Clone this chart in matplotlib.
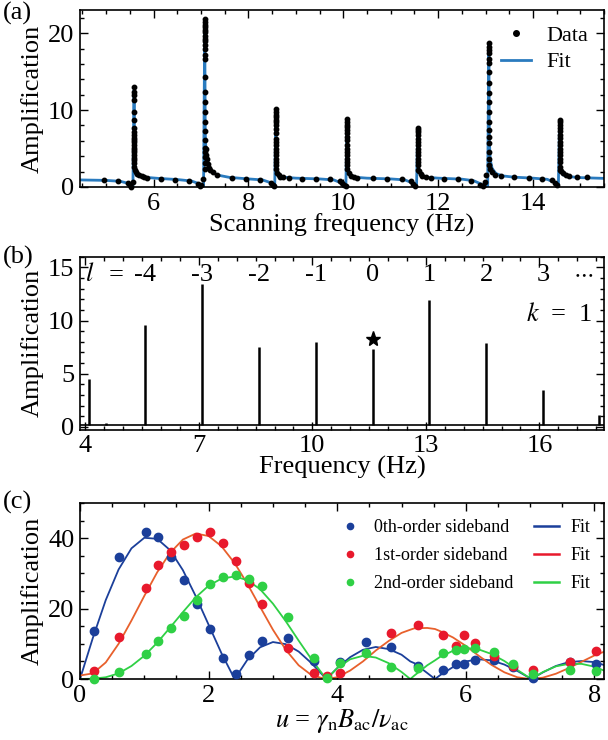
import numpy as np
import matplotlib.pyplot as plt
from matplotlib.ticker import MultipleLocator
from matplotlib.lines import Line2D

plt.rcParams['font.family'] = ['Liberation Serif', 'DejaVu Serif']
plt.rcParams['mathtext.fontset'] = 'stix'

# (a) resonance scan: dots stacked on each resonance, plus the dots in between
peak_freq = [5.59, 7.08, 8.58, 10.08, 11.57, 13.07, 14.56]
peak_amps = [
    [13.0, 12.3, 11.9, 11.3, 9.8, 8.7, 7.7, 7.2, 6.8, 6.4, 6.1, 5.8, 5.5, 5.1, 4.8, 4.5, 4.2, 3.8, 3.5, 3.1, 2.6],
    [21.8, 21.5, 21.1, 20.8, 20.4, 20.1, 19.7, 19.3, 19.0, 18.5, 18.0, 17.2, 16.7, 14.3, 12.4, 11.1, 9.8, 8.4, 7.3, 6.1, 5.1, 4.6, 3.9, 3.1, 2.4],
    [10.1, 9.8, 9.4, 9.1, 8.7, 8.4, 8.0, 7.5, 7.0, 6.3, 5.9, 5.5, 4.9, 4.6, 4.2, 3.7, 3.3, 2.9, 2.4],
    [8.8, 8.5, 8.1, 7.8, 7.4, 7.0, 6.5, 6.1, 5.5, 5.0, 4.6, 4.1, 3.6, 3.2, 2.8, 2.3],
    [7.7, 7.4, 7.1, 6.8, 6.3, 5.9, 5.5, 5.0, 4.6, 4.2, 3.7, 3.3, 2.8, 2.2],
    [18.7, 18.2, 17.8, 17.4, 16.7, 16.1, 15.0, 13.5, 12.2, 11.1, 9.8, 8.5, 7.4, 6.5, 5.7, 4.6, 3.7, 2.9],
    [8.7, 8.4, 8.1, 7.7, 7.3, 6.8, 6.4, 5.9, 5.5, 4.9, 4.5, 4.1, 3.6, 3.2, 2.6, 2.2],
]
side_freq = [4.96, 5.26, 5.47, 5.50, 5.53, 5.56,
             5.61, 5.63, 5.66, 5.70, 5.75, 5.80, 5.87, 6.15, 6.45, 6.75,
             6.93, 6.97, 7.01, 7.05,
             7.10, 7.11, 7.13, 7.15, 7.17, 7.20, 7.25, 7.34, 7.65, 7.94, 8.24,
             8.48, 8.52, 8.55,
             8.60, 8.64, 8.67, 8.73, 8.85, 9.13, 9.43, 9.73, 9.93, 9.98, 10.01, 10.05,
             10.12, 10.17, 10.22, 10.29, 10.63, 10.93, 11.23, 11.42, 11.48, 11.52,
             11.60, 11.63, 11.67, 11.74, 11.85, 12.13, 12.42, 12.69, 12.89, 12.94, 12.99, 13.02,
             13.10, 13.14, 13.21, 13.32, 13.60, 13.91, 14.20, 14.41, 14.46, 14.50,
             14.60, 14.63, 14.69, 14.76, 14.92, 15.14]
side_amp = [0.87, 0.74, 0.55, 0.28, 0.05, 0.7,
            2.2, 1.9, 1.65, 1.5, 1.38, 1.3, 1.2, 1.08, 0.95, 0.78,
            0.4, 0.15, 0.3, 1.0,
            4.9, 4.2, 3.6, 3.0, 2.5, 2.2, 1.9, 1.6, 1.2, 1.06, 0.95,
            0.56, 0.26, 0.1,
            1.78, 1.56, 1.35, 1.26, 1.2, 1.1, 1.08, 0.99, 0.82, 0.52, 0.22, 0.09,
            1.78, 1.48, 1.26, 1.13, 1.12, 1.08, 0.99, 0.73, 0.43, 0.17,
            2.1, 1.65, 1.43, 1.3, 1.2, 1.1, 1.04, 0.82, 0.3, 0.1, 0.6, 1.5,
            2.4, 2.0, 1.6, 1.4, 1.3, 1.18, 1.1, 0.9, 0.5, 0.25,
            2.1, 1.8, 1.6, 1.45, 1.3, 1.26]

fit_freq = [4.45, 5.00, 5.30, 5.45, 5.53, 5.565, 5.59, 5.60, 5.62, 5.66, 5.72, 5.85, 6.10, 6.50, 6.80,
            6.95, 7.03, 7.055, 7.08, 7.09, 7.11, 7.15, 7.22, 7.35, 7.60, 8.00, 8.30,
            8.45, 8.53, 8.555, 8.58, 8.59, 8.61, 8.66, 8.75, 9.00, 9.50, 9.80,
            9.95, 10.03, 10.055, 10.08, 10.09, 10.11, 10.16, 10.25, 10.50, 11.00, 11.30,
            11.45, 11.52, 11.545, 11.57, 11.58, 11.60, 11.65, 11.75, 12.00, 12.50, 12.75,
            12.90, 13.00, 13.045, 13.07, 13.08, 13.10, 13.14, 13.22, 13.35, 13.60, 14.00, 14.30,
            14.45, 14.51, 14.535, 14.56, 14.57, 14.59, 14.64, 14.75, 15.00, 15.50]
fit_amp = [0.92, 0.86, 0.74, 0.5, 0.15, 0.0, 12.6, 4.0, 2.4, 1.75, 1.45, 1.25, 1.12, 0.97, 0.78,
           0.45, 0.08, 0.0, 21.7, 7.0, 4.0, 2.8, 2.0, 1.55, 1.25, 1.05, 0.92,
           0.6, 0.12, 0.0, 9.9, 3.5, 2.0, 1.5, 1.27, 1.15, 1.05, 0.92,
           0.55, 0.1, 0.0, 8.6, 3.0, 1.9, 1.5, 1.27, 1.15, 1.05, 0.92,
           0.55, 0.12, 0.0, 7.6, 2.8, 1.9, 1.5, 1.27, 1.15, 1.02, 0.82,
           0.4, 0.05, 0.0, 18.5, 6.0, 3.5, 2.4, 1.75, 1.45, 1.28, 1.15, 1.0,
           0.6, 0.15, 0.0, 8.5, 3.0, 1.9, 1.55, 1.35, 1.22, 1.12]

# (b) Fourier spectrum
spec_freq = [4.10, 4.55, 5.59, 7.09, 8.59, 10.10, 11.60, 13.09, 14.60, 16.09, 17.58]
spec_amp = [4.45, 0.35, 9.6, 13.45, 7.55, 8.0, 7.35, 11.9, 7.9, 3.45, 1.1]
spec_floor = 0.12
order_labels = ['-4', '-3', '-2', '-1', '0', '1', '2', '3']
order_freq = [5.59, 7.09, 8.59, 10.10, 11.60, 13.09, 14.60, 16.09]
star_freq, star_amp = 11.60, 8.3

# (c) sideband amplitudes vs modulation index
u0 = [0.21, 0.60, 1.02, 1.22, 1.42, 1.61, 1.82, 2.02, 2.22, 2.43, 2.63, 2.83, 3.23, 3.64,
      4.04, 4.44, 4.84, 5.25, 5.64, 5.84, 5.97, 6.14, 6.44, 6.74, 7.04, 7.62, 8.03]
a0 = [13.5, 34.6, 41.7, 40.3, 34.6, 28.0, 21.4, 14.3, 6.0, 1.5, 6.9, 10.7, 11.6, 5.0,
      4.8, 10.4, 9.0, 3.6, 2.7, 4.4, 4.4, 5.5, 5.3, 3.4, 0.3, 4.8, 4.3]
u1 = [0.21, 0.60, 1.02, 1.22, 1.42, 1.61, 1.82, 2.02, 2.22, 2.43, 2.63, 2.83, 3.23, 3.64,
      3.84, 4.04, 4.84, 5.25, 5.64, 5.84, 5.97, 6.14, 6.44, 6.74, 7.04, 7.62, 8.03]
a1 = [2.2, 12.0, 25.9, 32.3, 36.0, 38.0, 40.3, 41.7, 38.5, 33.6, 27.3, 21.4, 8.8, 1.7,
      1.0, 1.7, 13.1, 15.4, 12.4, 9.5, 12.4, 10.2, 6.4, 3.6, 2.7, 4.8, 8.0]
u2 = [0.21, 0.60, 1.02, 1.22, 1.42, 1.61, 1.82, 2.02, 2.22, 2.43, 2.63, 2.83, 3.23, 3.64,
      3.84, 4.04, 4.44, 4.84, 5.25, 5.64, 5.84, 5.97, 6.14, 6.44, 6.74, 7.04, 7.62, 8.03]
a2 = [0.0, 1.9, 7.2, 10.9, 14.4, 18.0, 22.4, 26.9, 29.0, 29.4, 28.4, 26.5, 17.5, 6.0,
      0.2, 4.5, 7.4, 3.3, 3.1, 7.4, 8.2, 8.5, 8.8, 7.6, 4.4, 1.4, 2.7, 2.2]

fit_u = [0.0, 0.2, 0.4, 0.6, 0.8, 1.0, 1.2, 1.4, 1.6, 1.8, 2.0, 2.2, 2.4, 2.405, 2.6, 2.8, 3.0,
         3.2, 3.4, 3.6, 3.8, 3.832, 4.0, 4.2, 4.4, 4.6, 4.8, 5.0, 5.136, 5.2, 5.4, 5.52, 5.6, 5.8,
         6.0, 6.2, 6.4, 6.6, 6.8, 7.0, 7.016, 7.2, 7.4, 7.6, 7.8, 8.0, 8.2]
fit0 = [0.0, 11.7, 22.4, 31.1, 37.1, 40.1, 39.8, 36.6, 30.9, 23.5, 15.4, 7.3, 0.15, 0.0, 5.4, 9.0, 10.5,
        9.9, 7.8, 4.5, 0.6, 0.0, 3.1, 6.2, 8.3, 9.1, 8.5, 6.9, 5.0, 4.5, 1.7, 0.0, 1.1, 3.4,
        5.0, 5.6, 5.3, 4.1, 2.3, 0.2, 0.0, 1.9, 3.7, 4.8, 5.1, 4.8, 3.7]
fit1 = [1.0, 1.6, 4.7, 10.0, 16.6, 23.6, 30.3, 35.8, 39.6, 41.3, 40.6, 37.7, 33.0, 32.9, 27.1, 20.5, 14.0,
        8.3, 3.9, 1.1, 0.1, 0.0, 0.5, 2.4, 5.0, 8.1, 10.8, 13.1, 14.0, 14.4, 14.5, 14.2, 13.6, 11.8,
        9.4, 6.6, 4.0, 1.9, 0.5, 0.0, 0.0, 0.4, 1.5, 3.1, 4.9, 6.7, 8.1]
fit2 = [0.0, 0.1, 0.5, 1.6, 3.7, 6.6, 10.3, 14.6, 19.0, 23.2, 26.5, 28.5, 29.1, 29.1, 28.1, 25.5, 21.4,
        16.4, 10.9, 5.6, 0.7, 0.0, 3.1, 5.6, 6.6, 6.1, 4.5, 2.0, 0.0, 1.0, 3.9, 5.3, 6.3, 8.0,
        8.8, 8.4, 7.1, 5.1, 2.6, 0.2, 0.0, 2.0, 3.6, 4.3, 4.3, 3.5, 2.0]

blue = '#1b3f9a'
red = '#e8192c'
red_line = '#e8602c'
green = '#2fd045'
fit_blue = '#2a7bbf'


def style_axes(ax, xmaj, xmin, ymaj, ymin, xoff=0):
    ax.xaxis.set_major_locator(MultipleLocator(xmaj, offset=xoff))
    ax.xaxis.set_minor_locator(MultipleLocator(xmin))
    ax.yaxis.set_major_locator(MultipleLocator(ymaj))
    ax.yaxis.set_minor_locator(MultipleLocator(ymin))
    ax.tick_params(which='both', direction='in', top=True, right=True, labelsize=19, width=1.0)
    ax.tick_params(which='major', length=6, pad=4)
    ax.tick_params(which='minor', length=3)
    for sp in ax.spines.values():
        sp.set_linewidth(1.2)


fig = plt.figure(figsize=(6.08, 7.4), dpi=100)

# panel (a)
ax1 = fig.add_axes([0.1316, 0.7473, 0.862, 0.239])
ax1.plot(fit_freq, fit_amp, color=fit_blue, lw=2.0, zorder=2)
col_f = np.concatenate([[f] * len(a) for f, a in zip(peak_freq, peak_amps)])
col_a = np.concatenate(peak_amps)
ax1.plot(np.concatenate([side_freq, col_f]), np.concatenate([side_amp, col_a]),
         'o', color='black', ms=3.2, zorder=3, clip_on=False)
ax1.set_xlim(4.45, 15.5)
ax1.set_ylim(0, 23)
style_axes(ax1, 2, 0.5, 10, 2)
ax1.set_xlabel('Scanning frequency (Hz)', fontsize=19, labelpad=-1)
ax1.set_ylabel('Amplification', fontsize=19, labelpad=3)
h_data = Line2D([], [], ls='none', marker='o', color='black', ms=4)
h_fit = Line2D([], [], color=fit_blue, lw=2.0)
ax1.legend([h_data, h_fit], ['Data', 'Fit'], loc='upper right', frameon=False, fontsize=16,
           handlelength=1.35, handletextpad=0.7, labelspacing=0.25, borderaxespad=0.3,
           bbox_to_anchor=(1.0, 1.0))

# panel (b)
ax2 = fig.add_axes([0.1316, 0.419, 0.862, 0.234])
ax2.axhline(spec_floor, color='black', lw=1.2, zorder=2)
ax2.vlines(spec_freq, spec_floor, spec_amp, color='black', lw=1.8, zorder=3)
ax2.plot(star_freq, star_amp, '*', color='black', ms=11, zorder=4)
for f, s in zip(order_freq, order_labels):
    ax2.text(f, 14.3, s, ha='center', va='center', fontsize=19)
ax2.text(4.0, 14.3, '$l$', ha='left', va='center', fontsize=19)
ax2.text(4.8, 14.3, '=', ha='center', va='center', fontsize=19)
ax2.text(17.15, 14.3, r'$\cdots$', ha='center', va='center', fontsize=16)
ax2.text(17.4, 10.6, '$k$  =  1', ha='right', va='center', fontsize=19)
ax2.set_xlim(3.86, 17.71)
ax2.set_ylim(-0.3, 16)
style_axes(ax2, 3, 0.5, 5, 1, xoff=1)
ax2.set_xlabel('Frequency (Hz)', fontsize=19, labelpad=-1)
ax2.set_ylabel('Amplification', fontsize=19, labelpad=3)

# panel (c)
ax3 = fig.add_axes([0.1316, 0.0824, 0.862, 0.238])
ax3.plot(fit_u, fit0, color=blue, lw=1.3, zorder=2)
ax3.plot(fit_u, fit1, color=red_line, lw=1.3, zorder=2)
ax3.plot(fit_u, fit2, color=green, lw=1.3, zorder=2)
ax3.plot(u0, a0, 'o', color=blue, ms=6, zorder=3, clip_on=False)
ax3.plot(u1, a1, 'o', color=red, ms=6, zorder=3, clip_on=False)
ax3.plot(u2, a2, 'o', color=green, ms=6, zorder=3, clip_on=False)
ax3.set_xlim(0, 8.15)
ax3.set_ylim(0, 50)
style_axes(ax3, 2, 0.5, 20, 5)
ax3.set_xlabel(r'$u$ = $\gamma_{\rm n}B_{\rm ac}/\nu_{\rm ac}$', fontsize=19, labelpad=0)
ax3.set_ylabel('Amplification', fontsize=19, labelpad=3)
handles = [Line2D([], [], ls='none', marker='o', color=c, ms=4.5) for c in (blue, red, green)]
handles += [Line2D([], [], color=c, lw=1.8) for c in (blue, red, green)]
labels = ['0th-order sideband', '1st-order sideband', '2nd-order sideband', 'Fit', 'Fit', 'Fit']
ax3.legend(handles, labels, ncol=2, loc='upper right', frameon=False, fontsize=13,
           handlelength=1.4, handletextpad=0.65, columnspacing=1.1, labelspacing=0.6,
           borderaxespad=0.5, bbox_to_anchor=(1.005, 1.0))

fig.text(0.005, 0.998, '(a)', fontsize=19, va='top', ha='left')
fig.text(0.005, 0.668, '(b)', fontsize=19, va='top', ha='left')
fig.text(0.005, 0.336, '(c)', fontsize=19, va='top', ha='left')

fig.savefig('out.png', dpi=100)
